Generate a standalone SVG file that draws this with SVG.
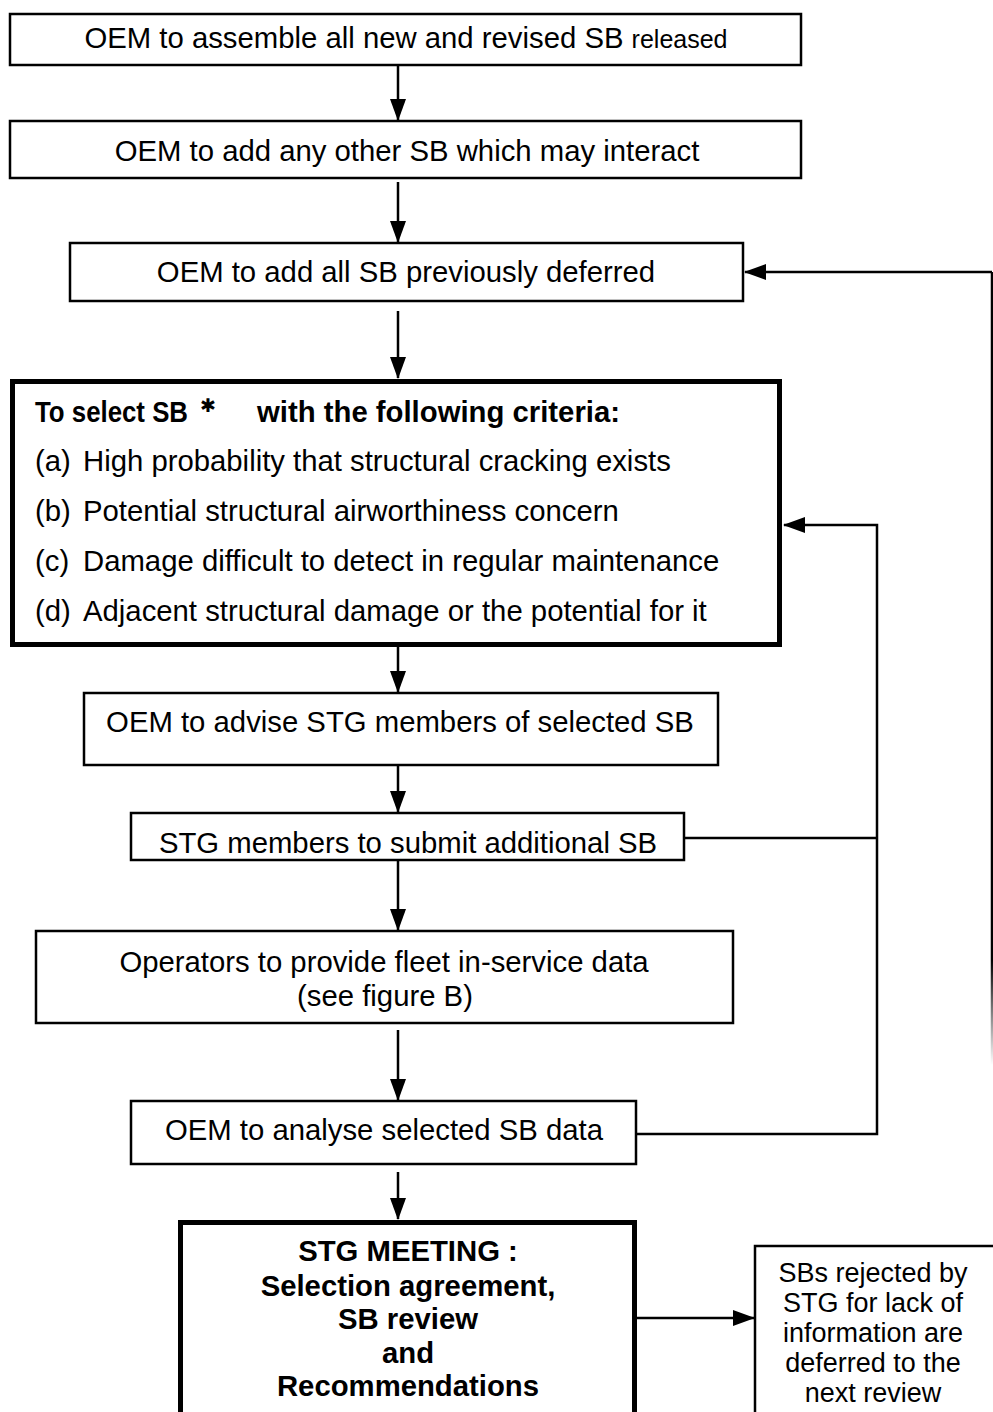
<svg xmlns="http://www.w3.org/2000/svg" width="993" height="1412" viewBox="0 0 993 1412">
<style>
.box{fill:#fff;stroke:#000;stroke-width:2.5}
.thick{fill:#fff;stroke:#000;stroke-width:5}
.t{font-family:"Liberation Sans",Arial,sans-serif;font-size:29.3px;fill:#000}
.c{text-anchor:middle}
.b{font-weight:bold}
.s{font-family:"Liberation Sans",Arial,sans-serif;font-size:27px;fill:#000;text-anchor:middle}
.ln{fill:none;stroke:#000;stroke-width:2.5}
</style>
<defs>
<marker id="ah" markerUnits="userSpaceOnUse" markerWidth="22" markerHeight="16" refX="21" refY="8" orient="auto">
<path d="M0,0 L22,8 L0,16 Z" fill="#000"/>
</marker>
<linearGradient id="fade" gradientUnits="userSpaceOnUse" x1="0" y1="960" x2="0" y2="1065">
<stop offset="0" stop-color="#000"/>
<stop offset="1" stop-color="#000" stop-opacity="0"/>
</linearGradient>
</defs>
<rect width="993" height="1412" fill="#fff"/>
<g id="connectors">
<line class="ln" x1="398" y1="65" x2="398" y2="120" marker-end="url(#ah)"/>
<line class="ln" x1="398" y1="182" x2="398" y2="242" marker-end="url(#ah)"/>
<line class="ln" x1="398" y1="311" x2="398" y2="378" marker-end="url(#ah)"/>
<line class="ln" x1="398" y1="647" x2="398" y2="692" marker-end="url(#ah)"/>
<line class="ln" x1="398" y1="765" x2="398" y2="812" marker-end="url(#ah)"/>
<line class="ln" x1="398" y1="860" x2="398" y2="930" marker-end="url(#ah)"/>
<line class="ln" x1="398" y1="1030" x2="398" y2="1100" marker-end="url(#ah)"/>
<line class="ln" x1="398" y1="1172" x2="398" y2="1219" marker-end="url(#ah)"/>
<line class="ln" x1="637" y1="1318" x2="754" y2="1318" marker-end="url(#ah)"/>
<line class="ln" x1="684" y1="838" x2="877" y2="838"/>
<polyline class="ln" points="636,1134 877,1134 877,525 784,525" marker-end="url(#ah)"/>
<line x1="992" y1="1065" x2="992" y2="272" stroke="url(#fade)" stroke-width="2.5"/>
<polyline class="ln" points="992,272 745,272" marker-end="url(#ah)"/>
</g>
<g id="n1">
<rect class="box" x="10" y="14" width="791" height="51"/>
<text class="t c" x="406" y="48">OEM to assemble all new and revised SB <tspan font-size="25">released</tspan></text>
</g>
<g id="n2">
<rect class="box" x="10" y="121" width="791" height="57"/>
<text class="t c" x="407" y="161">OEM to add any other SB which may interact</text>
</g>
<g id="n3">
<rect class="box" x="70" y="243" width="673" height="58"/>
<text class="t c" x="406" y="282">OEM to add all SB previously deferred</text>
</g>
<g id="n4">
<rect class="thick" x="12.5" y="381.5" width="767" height="263"/>
<text class="t b" x="35" y="422" font-size="27"><tspan textLength="153" lengthAdjust="spacingAndGlyphs">To select SB</tspan><tspan x="200" y="412" font-size="19" font-weight="normal">✱</tspan><tspan x="257" y="422" textLength="363" lengthAdjust="spacingAndGlyphs">with the following criteria:</tspan></text>
<text class="t" x="35" y="471">(a)</text><text class="t" x="83" y="471">High probability that structural cracking exists</text>
<text class="t" x="35" y="521">(b)</text><text class="t" x="83" y="521">Potential structural airworthiness concern</text>
<text class="t" x="35" y="571">(c)</text><text class="t" x="83" y="571">Damage difficult to detect in regular maintenance</text>
<text class="t" x="35" y="621">(d)</text><text class="t" x="83" y="621">Adjacent structural damage or the potential for it</text>
</g>
<g id="n5">
<rect class="box" x="84" y="693" width="634" height="72"/>
<text class="t c" x="400" y="732">OEM to advise STG members of selected SB</text>
</g>
<g id="n6">
<rect class="box" x="131" y="813" width="553" height="47"/>
<text class="t c" x="408" y="853">STG members to submit additional SB</text>
</g>
<g id="n7">
<rect class="box" x="36" y="931" width="697" height="92"/>
<text class="t c" x="384" y="972">Operators to provide fleet in-service data</text>
<text class="t c" x="385" y="1006">(see figure B)</text>
</g>
<g id="n8">
<rect class="box" x="131" y="1101" width="505" height="63"/>
<text class="t c" x="384" y="1140">OEM to analyse selected SB data</text>
</g>
<g id="n9">
<rect class="thick" x="180.5" y="1222.5" width="454" height="220"/>
<text class="t c b" x="408" y="1261">STG MEETING :</text>
<text class="t c b" x="408" y="1296">Selection agreement,</text>
<text class="t c b" x="408" y="1329">SB review</text>
<text class="t c b" x="408" y="1363">and</text>
<text class="t c b" x="408" y="1396">Recommendations</text>
</g>
<g id="n10">
<rect class="box" x="755" y="1246" width="260" height="200"/>
<text class="s" x="873" y="1282">SBs rejected by</text>
<text class="s" x="873" y="1312">STG for lack of</text>
<text class="s" x="873" y="1342">information are</text>
<text class="s" x="873" y="1372">deferred to the</text>
<text class="s" x="873" y="1402">next review</text>
</g>
</svg>
